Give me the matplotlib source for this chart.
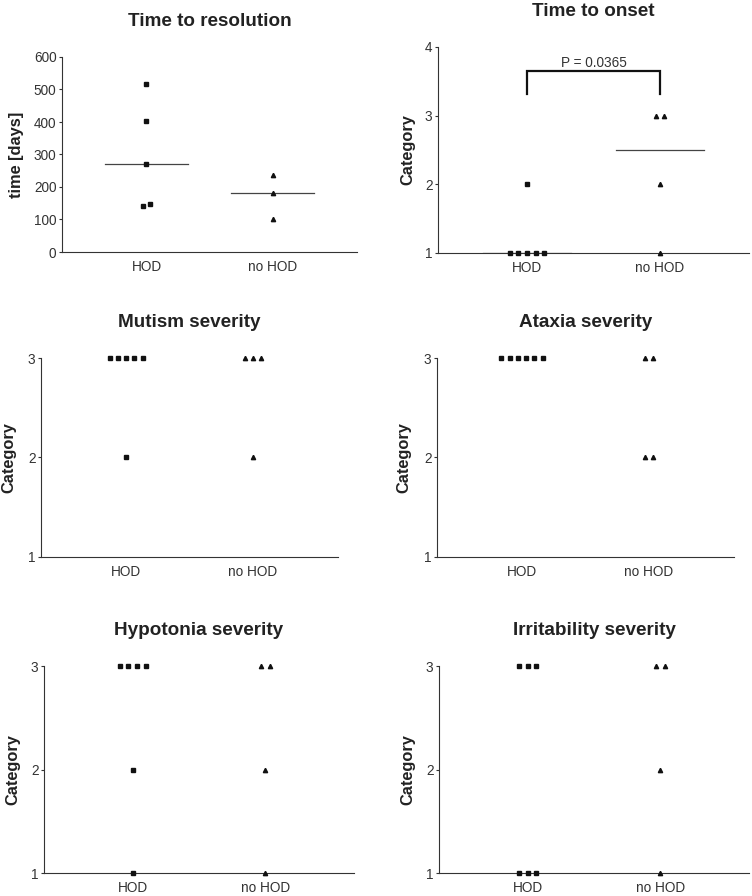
import numpy as np
import matplotlib
matplotlib.use("Agg")
import matplotlib.pyplot as plt

plt.rcParams['font.family'] = ['Liberation Sans', 'DejaVu Sans']

groups = ['HOD', 'no HOD']

res_hod = [518, 402, 270, 148, 140]
res_nohod = [237, 183, 100]
onset_hod = [2, 1, 1, 1, 1, 1]
onset_nohod = [3, 3, 2, 1]
mutism_hod = [3, 3, 3, 3, 3, 2]
mutism_nohod = [3, 3, 3, 2]
ataxia_hod = [3, 3, 3, 3, 3, 3]
ataxia_nohod = [3, 3, 2, 2]
hypotonia_hod = [3, 3, 3, 3, 2, 1]
hypotonia_nohod = [3, 3, 2, 1]
irrit_hod = [3, 3, 3, 1, 1, 1]
irrit_nohod = [3, 3, 2, 1]

p_value_text = 'P = 0.0365'

W, H = 752, 896
DARK = '#333333'


def make_axes(fig, left, top, right, bottom):
    return fig.add_axes([left / W, 1 - bottom / H, (right - left) / W, (bottom - top) / H])


def spread(values, tol, step):
    # GraphPad-style side by side placement for tied values
    vals = np.array(sorted(values))
    xs = np.zeros(len(vals))
    i = 0
    while i < len(vals):
        j = i
        while j + 1 < len(vals) and vals[j + 1] - vals[i] <= tol:
            j += 1
        n = j - i + 1
        xs[i:j + 1] = (np.arange(n) - (n - 1) / 2) * step
        i = j + 1
    return xs, vals


def panel(ax, title, hod, nohod, yticks, ylabel, label_px, ax_left, ax_w,
          tol=0.0, step=0.065, medians=False):
    for k, (data, mk, ms) in enumerate([(hod, 's', 3.1), (nohod, '^', 3.1)]):
        dx, vals = spread(data, tol, step)
        ax.plot(k + dx, vals, linestyle='none', marker=mk, markersize=ms,
                color='#111111', clip_on=False, zorder=3)
        if medians:
            m = np.median(data)
            ax.plot([k - 0.33, k + 0.33], [m, m], color='#444444', lw=0.9, zorder=2)
    ax.set_xlim(-0.67, 1.67)
    ax.set_ylim(yticks[0], yticks[-1])
    ax.set_yticks(yticks)
    ax.set_xticks([0, 1])
    ax.set_xticklabels(groups)
    for s in ['top', 'right']:
        ax.spines[s].set_visible(False)
    for s in ['left', 'bottom']:
        ax.spines[s].set_color(DARK)
        ax.spines[s].set_linewidth(0.8)
    ax.tick_params(axis='y', length=2.5, width=0.8, color=DARK, labelsize=9.8,
                   labelcolor=DARK, pad=1.5)
    ax.tick_params(axis='x', length=0, labelsize=9.8, labelcolor=DARK, pad=6)
    ax.set_title(title, fontsize=13.6, fontweight='bold', color='#222222', pad=22)
    ax.set_ylabel(ylabel, fontsize=11.8, fontweight='bold', color='#222222')
    ax.yaxis.set_label_coords((label_px - ax_left) / ax_w, 0.5)
    ax.yaxis.label.set_verticalalignment('center')


fig = plt.figure(figsize=(W / 100, H / 100), dpi=100)

# axes boxes in pixels: left, top, right, bottom
boxes = [(62, 57, 357, 252), (438, 47, 749, 253),
         (41, 358, 338, 557), (437, 358, 734, 557),
         (44, 666, 354, 873), (439, 666, 749, 873)]
label_x = [17, 408, 9, 404, 13, 408]
axs = [make_axes(fig, *b) for b in boxes]

panel(axs[0], 'Time to resolution', res_hod, res_nohod, [0, 100, 200, 300, 400, 500, 600],
      'time [days]', label_x[0], boxes[0][0], boxes[0][2] - boxes[0][0],
      tol=10, step=0.055, medians=True)
panel(axs[1], 'Time to onset', onset_hod, onset_nohod, [1, 2, 3, 4],
      'Category', label_x[1], boxes[1][0], boxes[1][2] - boxes[1][0], medians=True)
panel(axs[2], 'Mutism severity', mutism_hod, mutism_nohod, [1, 2, 3],
      'Category', label_x[2], boxes[2][0], boxes[2][2] - boxes[2][0])
panel(axs[3], 'Ataxia severity', ataxia_hod, ataxia_nohod, [1, 2, 3],
      'Category', label_x[3], boxes[3][0], boxes[3][2] - boxes[3][0])
panel(axs[4], 'Hypotonia severity', hypotonia_hod, hypotonia_nohod, [1, 2, 3],
      'Category', label_x[4], boxes[4][0], boxes[4][2] - boxes[4][0])
panel(axs[5], 'Irritability severity', irrit_hod, irrit_nohod, [1, 2, 3],
      'Category', label_x[5], boxes[5][0], boxes[5][2] - boxes[5][0])

# significance bracket on time to onset
ax = axs[1]
ax.plot([0, 0, 1, 1], [3.32, 3.65, 3.65, 3.32], color='#111111', lw=1.6,
        solid_joinstyle='miter', clip_on=False)
ax.text(0.5, 3.66, p_value_text, ha='center', va='bottom', fontsize=9.8, color=DARK)

fig.savefig('out.png', dpi=100)
